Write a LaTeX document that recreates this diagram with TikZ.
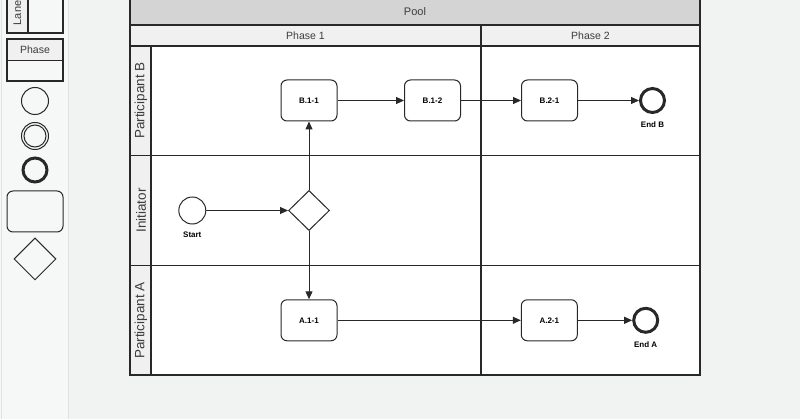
\documentclass[tikz,border=0pt]{standalone}
\usepackage{fontspec}
\setmainfont{Liberation Sans}
\usetikzlibrary{shapes.geometric,arrows.meta}
\definecolor{bgmain}{RGB}{240,243,242}
\definecolor{bgleft}{RGB}{246,248,248}
\definecolor{panelline}{RGB}{222,226,226}
\definecolor{poolfill}{RGB}{212,212,212}
\definecolor{hdrfill}{RGB}{240,240,240}
\definecolor{ink}{RGB}{40,40,40}
\definecolor{txt}{RGB}{60,60,60}
\tikzset{
  frame/.style={draw=ink, line width=1.5pt},
  task/.style={draw=ink, fill=white, line width=1pt, rounded corners=6pt, minimum width=56pt, minimum height=41pt, inner sep=0pt, font=\fontsize{8}{9}\selectfont\bfseries, text=black},
  startev/.style={circle, draw=ink, fill=white, line width=1pt, minimum size=27pt, inner sep=0pt},
  endev/.style={circle, draw=ink, fill=white, line width=3pt, minimum size=24pt, inner sep=0pt},
  gateway/.style={diamond, draw=ink, fill=white, line width=1pt, minimum width=41pt, minimum height=40pt, inner sep=0pt},
  evlabel/.style={font=\fontsize{8}{9}\selectfont\bfseries, text=black},
  flow/.style={draw=ink, line width=1pt, -{Triangle[length=8pt,width=7pt]}},
  hdrtext/.style={font=\fontsize{10.5}{12}\selectfont, text=txt},
  lanetext/.style={font=\fontsize{13.5}{15}\selectfont, text=txt, rotate=90},
  palette/.style={draw=ink, line width=1pt}
}
\begin{document}
\begin{tikzpicture}[x=1pt,y=-1pt]
\useasboundingbox (0,0) rectangle (800,419);
% backgrounds
\fill[bgmain] (0,0) rectangle (800,419);
\fill[bgleft] (0,0) rectangle (68,419);
\draw[panelline, line width=1pt] (68,0) -- (68,419);
\draw[panelline, line width=0.8pt] (1,0) -- (1,419);

% palette
\fill[hdrfill] (7,-5) rectangle (28,33);
\draw[frame, line width=1.3pt] (7,-5) rectangle (63,33);
\draw[frame, line width=1.3pt] (28,-5) -- (28,33);
\node[hdrtext, rotate=90, font=\fontsize{11}{12}\selectfont] (lanetxt) at (17.5,13) {Lane};
\fill[hdrfill] (7,39) rectangle (63,60.5);
\draw[frame, line width=1.3pt] (7,39) rectangle (63,81);
\draw[frame, line width=1.3pt] (7,60.5) -- (63,60.5);
\node[hdrtext] (phasetxt) at (35,49.5) {Phase};
\node[circle, palette, minimum size=27pt, inner sep=0pt] (pc1) at (35,101) {};
\node[circle, palette, minimum size=27pt, inner sep=0pt] (pc2) at (35,136) {};
\node[circle, palette, minimum size=22pt, inner sep=0pt] (pc2i) at (35,136) {};
\node[circle, palette, line width=3pt, minimum size=24pt, inner sep=0pt] (pc3) at (35,170) {};
\draw[palette, rounded corners=6pt] (7,191) rectangle (63,232);
\node[diamond, palette, minimum width=42pt, minimum height=42pt, inner sep=0pt] (pd) at (35,259) {};

% pool
\fill[white] (130,46) rectangle (700,375);
\fill[poolfill] (130,-5) rectangle (700,25);
\fill[hdrfill] (130,25) rectangle (700,46);
\fill[hdrfill] (130,46) rectangle (151,375);
\draw[frame] (130,-5) rectangle (700,375);
\draw[frame] (130,25) -- (700,25);
\draw[frame] (130,46) -- (700,46);
\draw[frame] (481,25) -- (481,375);
\draw[frame] (151,46) -- (151,375);
\draw[frame] (130,155.5) -- (700,155.5);
\draw[frame] (130,265.5) -- (700,265.5);
\node[hdrtext, font=\fontsize{11}{12}\selectfont] (pool) at (415,11.5) {Pool};
\node[hdrtext] (ph1) at (305.5,35.5) {Phase 1};
\node[hdrtext] (ph2) at (590.5,35.5) {Phase 2};
\node[lanetext] (lb) at (141,100.5) {Participant B};
\node[lanetext] (li) at (141,210.5) {Initiator};
\node[lanetext] (la) at (141,320.5) {Participant A};

% nodes
\node[task] (b11) at (309,100.5) {B.1-1};
\node[task] (b12) at (432.5,100.5) {B.1-2};
\node[task] (b21) at (549.5,100.5) {B.2-1};
\node[endev] (endb) at (652.5,100.5) {};
\node[evlabel] (endbl) at (652.5,125) {End B};
\node[startev] (start) at (192.3,210.5) {};
\node[evlabel] (startl) at (192.3,235) {Start};
\node[gateway] (gw) at (309,210.5) {};
\node[task] (a11) at (309,320.3) {A.1-1};
\node[task] (a21) at (549.3,320.3) {A.2-1};
\node[endev] (enda) at (645.7,320.3) {};
\node[evlabel] (endal) at (645.7,345) {End A};

% flows
\draw[flow] (start) -- (gw);
\draw[flow] (gw) -- (b11);
\draw[flow] (gw) -- (a11);
\draw[flow] (b11) -- (b12);
\draw[flow] (b12) -- (b21);
\draw[flow] (b21) -- (endb);
\draw[flow] (a11) -- (a21);
\draw[flow] (a21) -- (enda);
\end{tikzpicture}
\end{document}
